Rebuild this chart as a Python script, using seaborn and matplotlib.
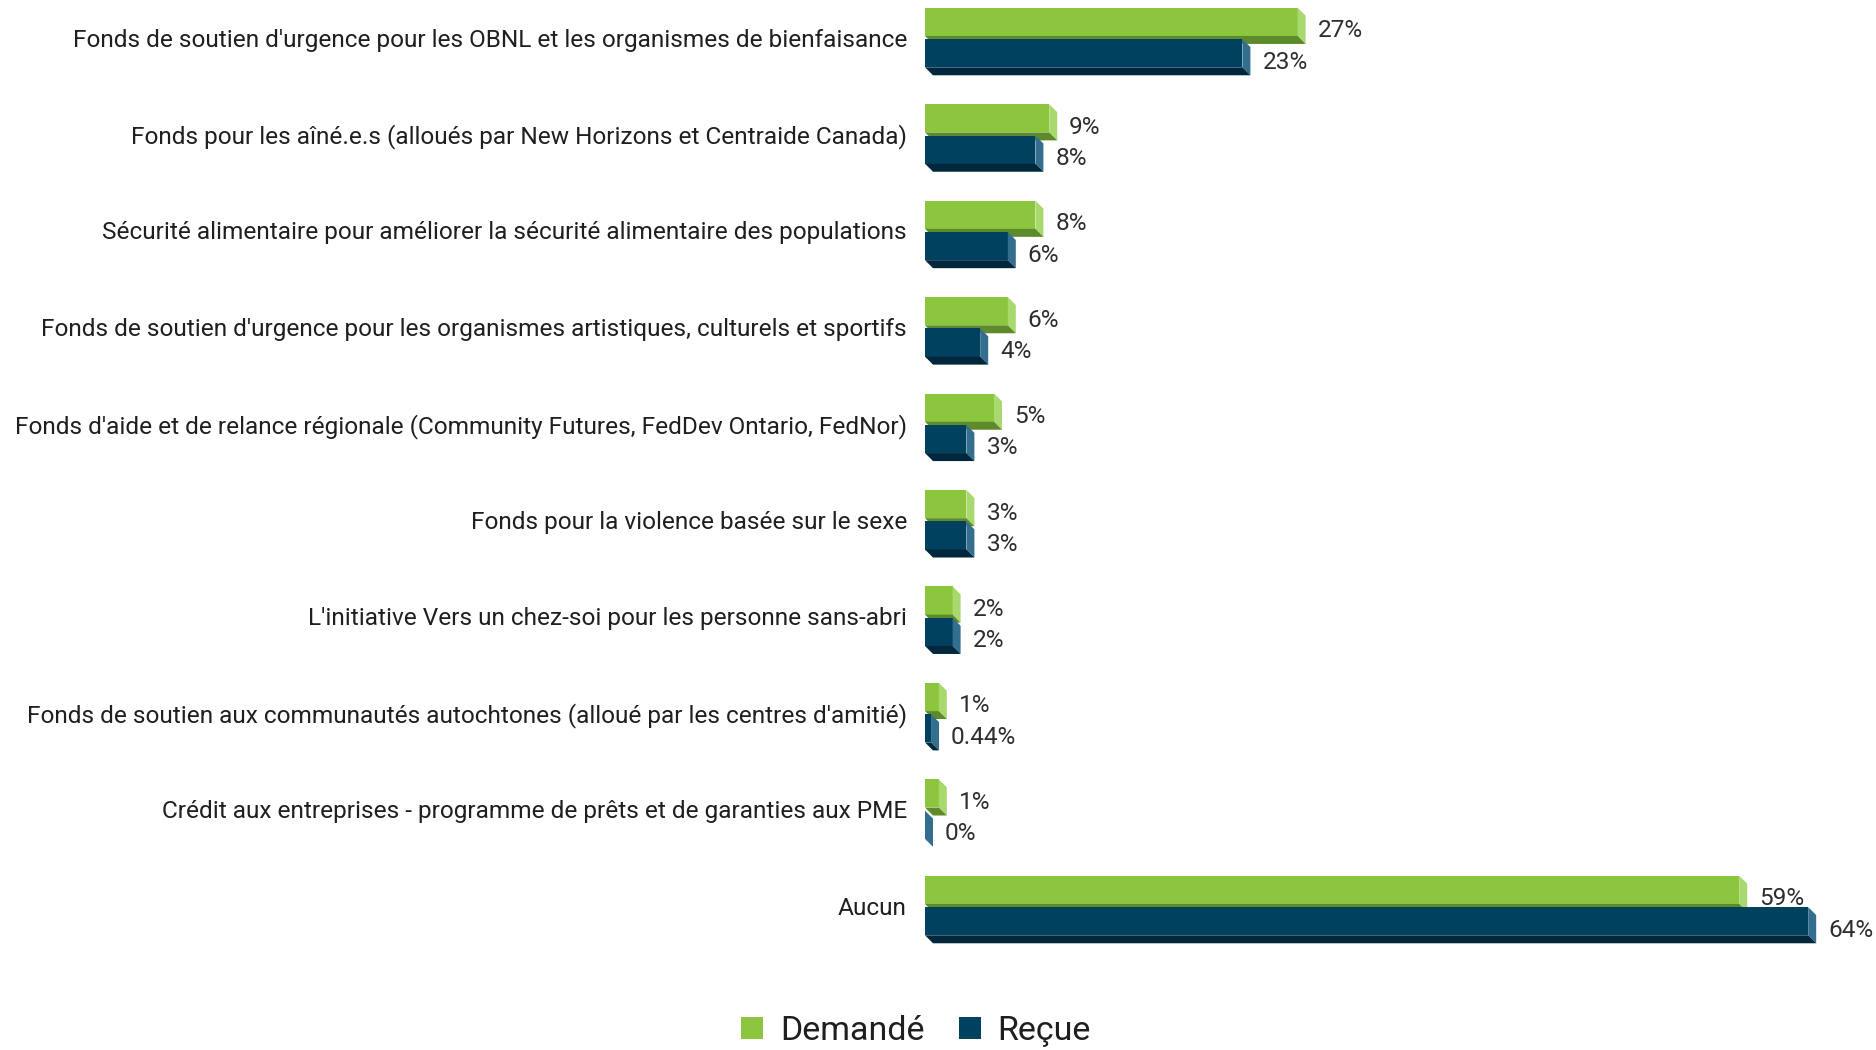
import pandas as pd
import matplotlib
matplotlib.use("Agg")
import matplotlib.pyplot as plt
from matplotlib.patches import Polygon, Patch
import seaborn as sns

# --- data ---
categories = [
    "Fonds de soutien d'urgence pour les OBNL et les organismes de bienfaisance",
    "Fonds pour les aîné.e.s (alloués par New Horizons et Centraide Canada)",
    "Sécurité alimentaire pour améliorer la sécurité alimentaire des populations",
    "Fonds de soutien d'urgence pour les organismes artistiques, culturels et sportifs",
    "Fonds d'aide et de relance régionale (Community Futures, FedDev Ontario, FedNor)",
    "Fonds pour la violence basée sur le sexe",
    "L'initiative Vers un chez-soi pour les personne sans-abri",
    "Fonds de soutien aux communautés autochtones (alloué par les centres d'amitié)",
    "Crédit aux entreprises - programme de prêts et de garanties aux PME",
    "Aucun",
]
demande = [27, 9, 8, 6, 5, 3, 2, 1, 1, 59]
recue = [23, 8, 6, 4, 3, 3, 2, 0.44, 0, 64]
series = ["Demandé", "Reçue"]

# front / side / bottom shades for the fake 3D look
FRONT = {"Demandé": "#8CC63F", "Reçue": "#00415F"}
SIDE = {"Demandé": "#A9D86F", "Reçue": "#336E8E"}
BOTTOM = {"Demandé": "#5F8A2B", "Reçue": "#00273B"}
DEPTH_PX = 8

df = pd.DataFrame({
    "category": categories * 2,
    "value": demande + recue,
    "series": [series[0]] * len(categories) + [series[1]] * len(categories),
})

sns.set_theme(style="white")
plt.rcParams["font.family"] = ["Roboto", "DejaVu Sans"]

W, H, DPI = 1876, 1050, 100
XMAX = 66
YLIM = (9.565, -0.389)
fig = plt.figure(figsize=(W / DPI, H / DPI), dpi=DPI)
ax = fig.add_axes([925 / W, 90 / H, XMAX * 13.8 / W, 960 / H])

sns.barplot(data=df, x="value", y="category", hue="series", order=categories,
            hue_order=series, palette=FRONT, saturation=1, width=0.65, gap=0.1,
            orient="h", legend=False, ax=ax)

ax.set_xlim(0, XMAX)
ax.set_ylim(*YLIM)
sns.despine(ax=ax, left=True, bottom=True)
ax.set_xticks([])
ax.set_xlabel("")
ax.set_ylabel("")
ax.tick_params(axis="y", length=0, pad=13, labelsize=17.6, labelcolor="#1f1f1f")

# data units per pixel, for the depth offset
px_x = ax.get_position().width * W / XMAX
px_y = ax.get_position().height * H / (YLIM[0] - YLIM[1])
dx = DEPTH_PX / px_x
dy = DEPTH_PX / px_y

for i, (name, cont) in enumerate(zip(series, ax.containers)):
    for bar in cont:
        x0 = bar.get_x()
        x1 = x0 + bar.get_width()
        t = bar.get_y()
        b = t + bar.get_height()
        bar.set_zorder(2 + i)
        bar.set_edgecolor("none")
        side = Polygon([(x1, t), (x1 + dx, t + dy), (x1 + dx, b + dy), (x1, b)],
                       closed=True, facecolor=SIDE[name], edgecolor="none", zorder=2 + i)
        bottom = Polygon([(x0, b), (x1, b), (x1 + dx, b + dy), (x0 + dx, b + dy)],
                         closed=True, facecolor=BOTTOM[name], edgecolor="none", zorder=2 + i)
        ax.add_patch(side)
        ax.add_patch(bottom)
        ax.annotate(f"{bar.get_width():g}%", (x1, (t + b) / 2),
                    xytext=(DEPTH_PX + 12, -9), textcoords="offset pixels",
                    ha="left", va="center", fontsize=17.6, color="#2e2e2e",
                    zorder=5)

handles = [Patch(facecolor=FRONT[s], edgecolor="none", label=s) for s in series]
fig.legend(handles=handles, loc="center", bbox_to_anchor=(916 / W, 1 - 1031 / H),
           ncol=2, frameon=False, fontsize=24.5, handlelength=0.65, handleheight=0.65,
           handletextpad=0.5, columnspacing=1.0, labelcolor="#1f1f1f")

fig.savefig("out.png", dpi=DPI)
